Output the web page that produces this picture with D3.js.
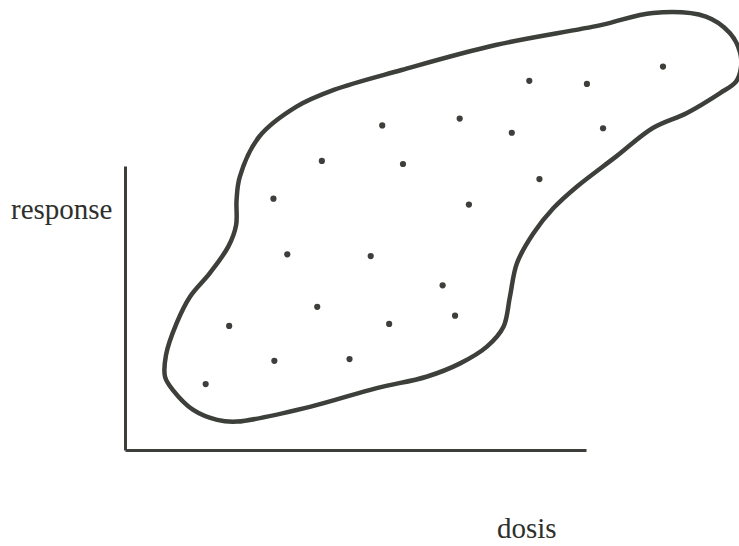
<!DOCTYPE html>
<html lang="en">
<head>
  <meta charset="UTF-8">
  <title>Dosis - response</title>
  <script src="https://d3js.org/d3.v7.min.js"></script>
  <style>
    body { margin: 0; background: #fff; }
    text {
      fill: #2e302c;
      font-family: 'Liberation Serif', 'Times New Roman', serif;
      font-size: 29px;
    }
    .axis path.domain {
      stroke: #3c3f3a;
      stroke-width: 3;
    }
  </style>
</head>
<body>
  <svg width="739" height="546"></svg>

  <script>
    // observations (dosis, response)
    const dosis = [4.27, 6.03, 8.99, 3.22, 7.46, 3.52, 5.33, 6.89, 4.17, 2.26, 5.73,
                   7.16, 3.24, 4.87, 1.75, 8.77, 10.02, 11.67, 5.58, 7.26, 8.39, 10.37];
    const response = [10.18, 10.07, 9.54, 8.85, 8.64, 6.89, 6.83, 5.80, 5.04, 4.37, 4.44,
                      4.73, 3.14, 3.20, 2.32, 13.00, 12.89, 13.50, 11.43, 11.67, 11.17, 11.33];

    // hand drawn envelope round the cloud
    const outlineX = [2.43, 2.00, 1.48, 1.04, 0.87, 0.89, 1.12, 1.41, 1.84, 2.24, 2.41, 2.42,
                      2.49, 2.91, 3.72, 4.53, 6.00, 8.04, 10.32, 11.45, 12.60, 13.12, 13.34,
                      13.36, 13.25, 12.91, 12.19, 11.45, 10.65, 9.80, 9.29, 8.86, 8.50, 8.35,
                      8.21, 7.85, 7.27, 6.54, 5.46, 4.01];
    const outlineY = [1.00, 1.06, 1.41, 2.11, 2.57, 3.35, 4.47, 5.40, 6.23, 7.16, 7.92, 8.80,
                      9.62, 11.03, 12.09, 12.68, 13.38, 14.26, 14.96, 15.39, 15.26, 14.68, 14.01,
                      13.45, 12.96, 12.57, 11.87, 11.34, 10.33, 9.27, 8.51, 7.63, 6.57, 5.40,
                      4.34, 3.64, 3.05, 2.58, 2.18, 1.52];

    const svg = d3.select("svg");

    const x = d3.scaleLinear().domain([0, 10]).range([125, 586]);
    const y = d3.scaleLinear().domain([0, 10]).range([450, 166]);

    // axes without ticks
    svg.append("g")
      .attr("class", "axis")
      .attr("transform", `translate(0,${y(0)})`)
      .call(d3.axisBottom(x).ticks(0).tickSizeOuter(0));
    svg.append("g")
      .attr("class", "axis")
      .attr("transform", `translate(${x(0)},0)`)
      .call(d3.axisLeft(y).ticks(0).tickSizeOuter(0));

    // envelope
    const outline = d3.zip(outlineX, outlineY);
    const line = d3.line()
      .x(d => x(d[0]))
      .y(d => y(d[1]))
      .curve(d3.curveCatmullRomClosed.alpha(0.5));

    svg.append("path")
      .datum(outline)
      .attr("fill", "none")
      .attr("stroke", "#3c3f3a")
      .attr("stroke-width", 4.5)
      .attr("stroke-linejoin", "round")
      .attr("d", line);

    // points
    svg.selectAll("circle")
      .data(d3.zip(dosis, response))
      .enter().append("circle")
      .attr("cx", d => x(d[0]))
      .attr("cy", d => y(d[1]))
      .attr("r", 3.1)
      .attr("fill", "#3c3f3a");

    // labels
    svg.append("text")
      .attr("x", 11)
      .attr("y", 219)
      .text("response");

    svg.append("text")
      .attr("x", 497)
      .attr("y", 538)
      .text("dosis");
  </script>
</body>
</html>
